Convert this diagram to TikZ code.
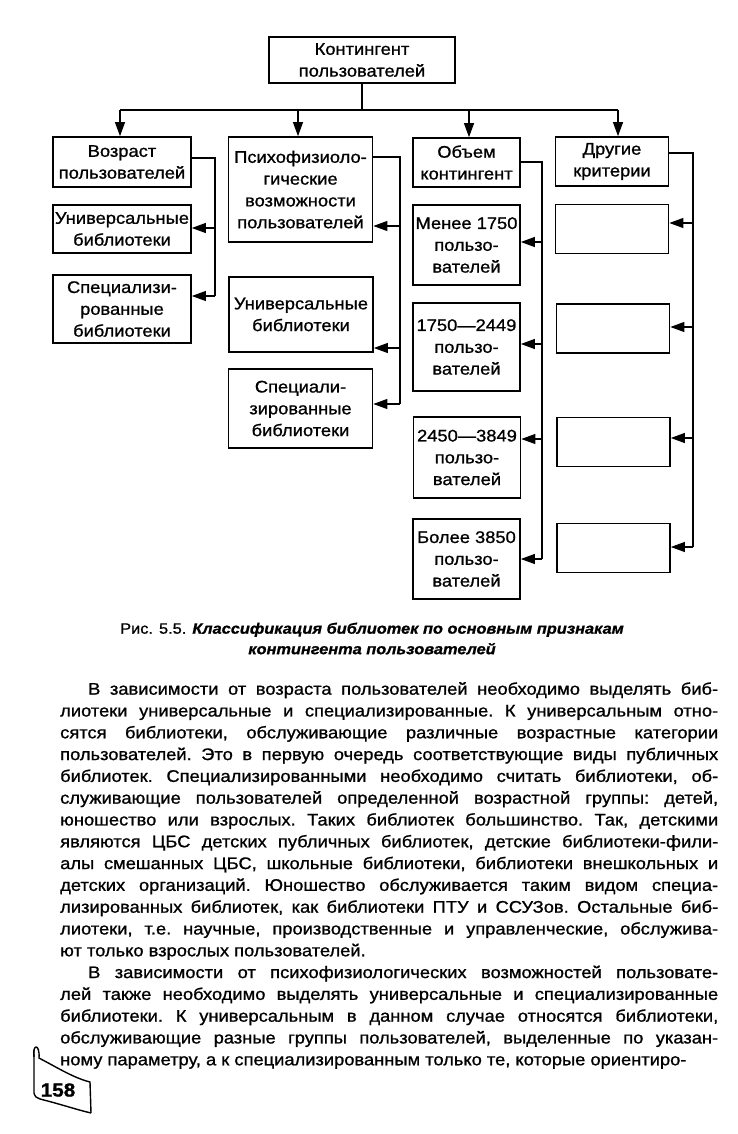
\documentclass[tikz,border=0pt]{standalone}
\usepackage{fontspec}
\setmainfont{Liberation Sans}[FakeStretch=1.09, FakeBold=1]
\usetikzlibrary{arrows.meta}

\begin{document}
\begin{tikzpicture}[
    x=1pt, y=-1pt,
    every node/.style={font=\fontsize{16.8}{21.8}\selectfont, inner sep=1pt},
    box/.style={draw, line width=1.7pt, align=center},
    agebox/.style={box, minimum width=138pt},
    psybox/.style={box, minimum width=144pt},
    volbox/.style={box, minimum width=107pt, minimum height=80pt},
    othbox/.style={box, minimum width=113pt, minimum height=49pt},
    link/.style={line width=1.1pt},
    arr/.style={link, -{Triangle[length=14pt, width=10pt]}},
]
\useasboundingbox (0,0) rectangle (737,1134);

% root and bus
\node[box, minimum width=186pt, minimum height=46pt] (root) at (362,60) {Контингент\\пользователей};
\coordinate (busL) at (120,110);
\coordinate (busR) at (618,110);
\draw[link] (root.south) -- (root.south |- busL);
\draw[link] (busL) -- (busR);

% column heads
\node[agebox, minimum height=50pt] (age) at (122,162) {Возраст\\пользователей};
\node[psybox, minimum height=105pt] (psy) at (300.5,189.5) {Психофизиоло-\\гические\\возможности\\пользователей};
\node[volbox, minimum height=49pt] (vol) at (466.5,162.5) {Объем\\контингент};
\node[othbox] (oth) at (612,161.5) {Другие\\критерии};

\foreach \nd/\xx in {age/120, psy/298, vol/469, oth/618} {
    \coordinate (a) at (\xx,110);
    \draw[arr] (a) -- (a |- \nd.north);
}

% sub boxes
\node[agebox, minimum height=48pt] (ageU) at (122,229) {Универсальные\\библиотеки};
\node[agebox, minimum height=68pt] (ageS) at (122,309) {Специализи-\\рованные\\библиотеки};
\node[psybox, minimum height=75pt] (psyU) at (301,314.5) {Универсальные\\библиотеки};
\node[psybox, minimum height=79pt] (psyS) at (300.5,408.5) {Специали-\\зированные\\библиотеки};
\node[volbox] (v1) at (466.5,245) {Менее 1750\\пользо-\\вателей};
\node[volbox, minimum height=88pt] (v2) at (466.5,347) {1750—2449\\пользо-\\вателей};
\node[volbox, minimum height=81pt] (v3) at (467,457.5) {2450—3849\\пользо-\\вателей};
\node[volbox] (v4) at (466.5,559) {Более 3850\\пользо-\\вателей};
\node[othbox] (o1) at (612,229) {};
\node[othbox] (o2) at (613,328.5) {};
\node[othbox] (o3) at (613.5,442) {};
\node[othbox] (o4) at (613.5,548) {};

% side buses
\foreach \nd/\xx/\ya/\yb in {age/215/158/296, psy/400/157/404, vol/542/162/559, oth/693/153/547} {
    \coordinate (t) at (\xx,\ya);
    \coordinate (b) at (\xx,\yb);
    \draw[link] (t -| \nd.east) -- (t) -- (b);
}
\foreach \xx/\yy/\nd in {215/228/ageU, 215/296/ageS,
        400/226/psy, 400/348/psyU, 400/404/psyS,
        542/242/v1, 542/344/v2, 542/439/v3, 542/559/v4,
        693/223/o1, 693/327/o2, 693/438/o3, 693/547/o4} {
    \coordinate (p) at (\xx,\yy);
    \draw[arr] (p) -- (p -| \nd.east);
}

% caption
\node[font=\fontsize{15}{20.5}\selectfont, align=center] (cap) at (372,638.5)
    {Рис. 5.5. \textbf{\textit{Классификация библиотек по основным признакам}}\\\textbf{\textit{контингента пользователей}}};

% text
\node[anchor=north west, text width=658pt, align=justify, inner sep=0pt] (body) at (60,682) {%
\parindent=0pt\tolerance=10000\hyphenpenalty=10000\exhyphenpenalty=10000\frenchspacing
\hspace*{28pt}В зависимости от возраста пользователей необходимо выделять биб-\linebreak
лиотеки универсальные и специализированные. К универсальным отно-\linebreak
сятся библиотеки, обслуживающие различные возрастные категории\linebreak
пользователей. Это в первую очередь соответствующие виды публичных\linebreak
библиотек. Специализированными необходимо считать библиотеки, об-\linebreak
служивающие пользователей определенной возрастной группы: детей,\linebreak
юношество или взрослых. Таких библиотек большинство. Так, детскими\linebreak
являются ЦБС детских публичных библиотек, детские библиотеки-фили-\linebreak
алы смешанных ЦБС, школьные библиотеки, библиотеки внешкольных и\linebreak
детских организаций. Юношество обслуживается таким видом специа-\linebreak
лизированных библиотек, как библиотеки ПТУ и ССУЗов. Остальные биб-\linebreak
лиотеки, т.е. научные, производственные и управленческие, обслужива-\linebreak
ют только взрослых пользователей.\par
\parfillskip=0pt
\hspace*{28pt}В зависимости от психофизиологических возможностей пользовате-\linebreak
лей также необходимо выделять универсальные и специализированные\linebreak
библиотеки. К универсальным в данном случае относятся библиотеки,\linebreak
обслуживающие разные группы пользователей, выделенные по указан-\linebreak
ному параметру, а к специализированным только те, которые ориентиро-};

% page number
\draw[line width=1.4pt] (34,1057) .. controls (32,1044) and (40,1043) .. (39,1058)
    .. controls (58,1068) and (74,1078) .. (90,1082) -- (91,1113);
\draw[line width=1.4pt] (34,1050) -- (34,1093) .. controls (35,1097) and (37,1098) .. (40,1099)
    .. controls (60,1104) and (78,1110) .. (91,1113);
\node[font=\fontsize{19}{20}\selectfont\bfseries] (pg) at (58,1090) {158};
\end{tikzpicture}
\end{document}
